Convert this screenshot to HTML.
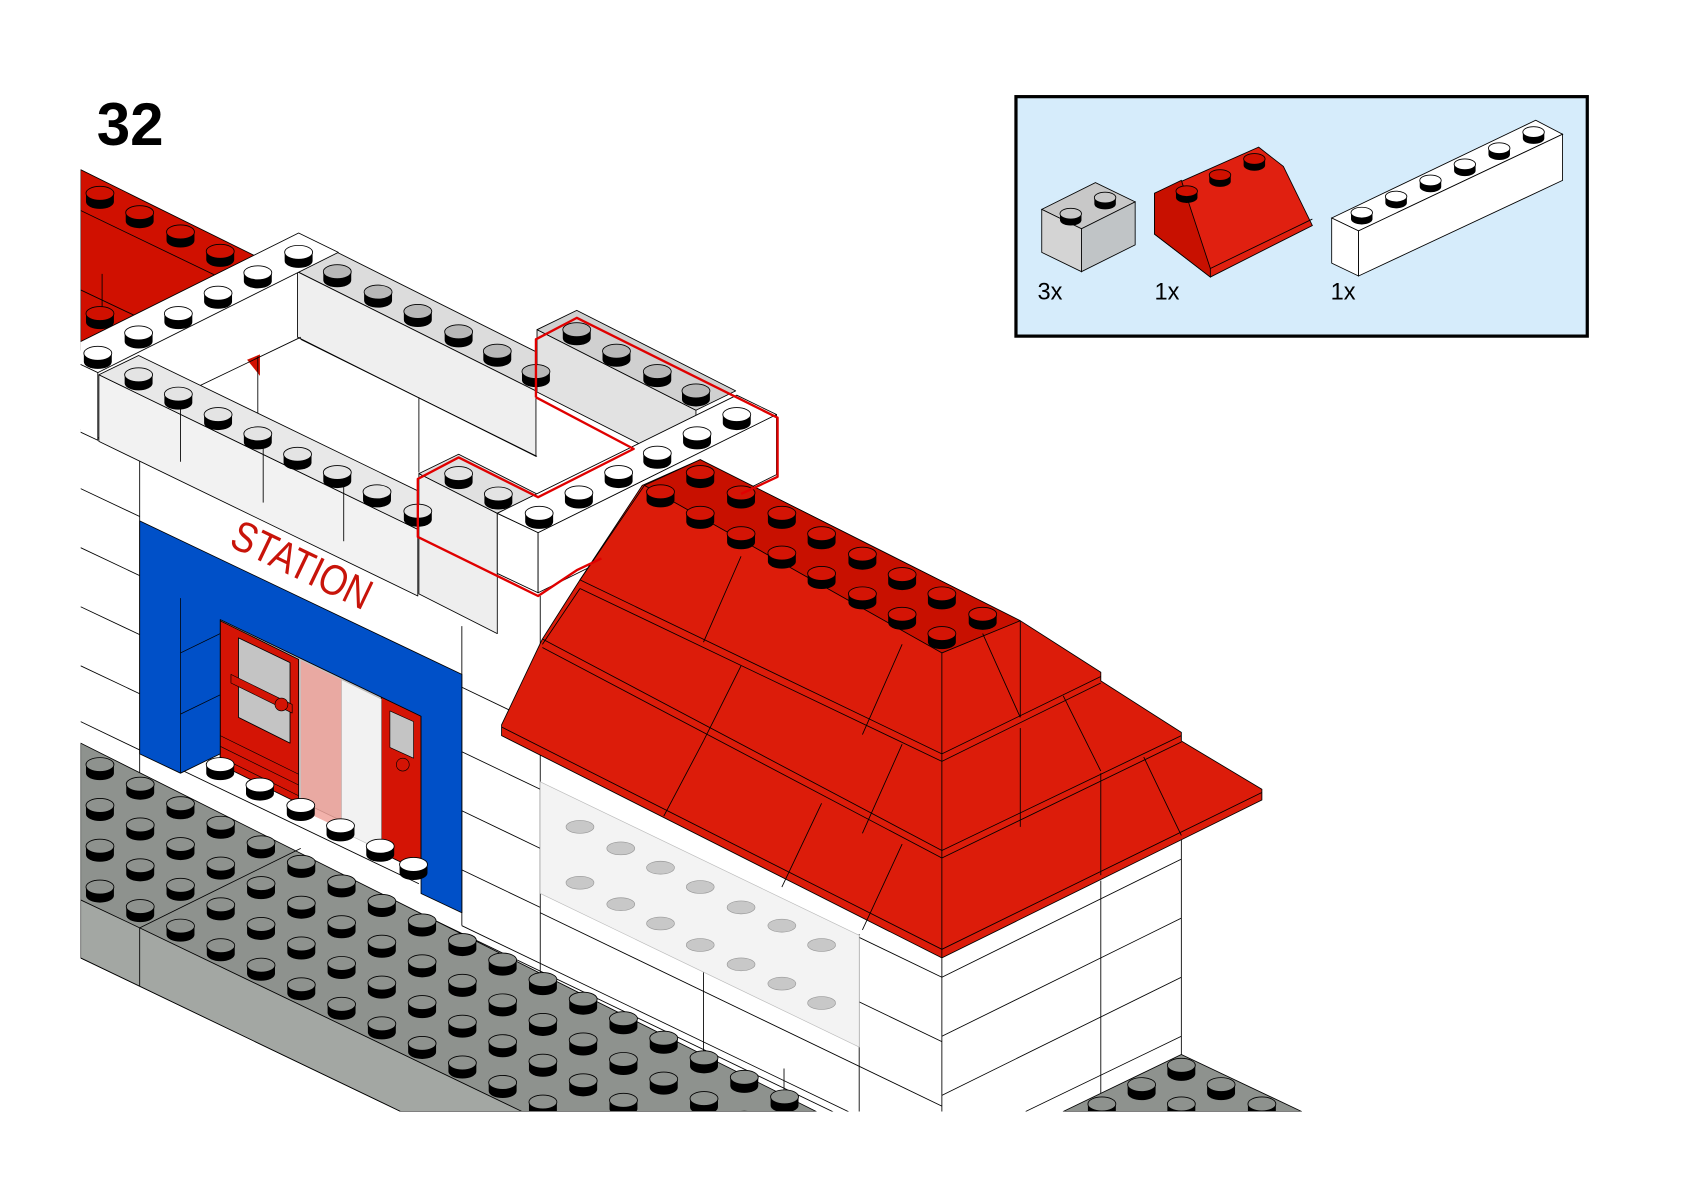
<!DOCTYPE html>
<html><head><meta charset="utf-8"><style>
html,body{margin:0;padding:0;background:#fff;}
svg{display:block;}
</style></head><body>
<svg width="1684" height="1192" viewBox="0 0 1568 1110" xmlns="http://www.w3.org/2000/svg">
<defs>
<g id="s"><path d="M-13,0 v8 a13,6.5 0 0 0 26,0 v-8 z" fill="#000"/><ellipse rx="13" ry="6.5" stroke="#000" stroke-width="0.8"/></g>
<g id="si"><path d="M-10,0 v6 a10,5 0 0 0 20,0 v-6 z" fill="#000"/><ellipse rx="10" ry="5" stroke="#000" stroke-width="0.8"/></g>
<g id="col"><use href="#s"/><use href="#s" y="38"/><use href="#s" y="76"/><use href="#s" y="114"/></g>
<clipPath id="cl"><rect x="75" y="0" width="1485" height="1035"/></clipPath>
</defs>
<rect width="1568" height="1110" fill="#fff"/>
<text x="90" y="135" font-family="Liberation Sans, sans-serif" font-weight="bold" font-size="56" fill="#000">32</text>

<g clip-path="url(#cl)" stroke-linejoin="round">
<!-- wall lines -->
<g stroke="#000" stroke-width="0.8" fill="none">
<line x1="75" y1="400" x2="130" y2="426"/><line x1="75" y1="455" x2="130" y2="481"/><line x1="75" y1="510" x2="130" y2="536"/>
<line x1="75" y1="565" x2="130" y2="591"/><line x1="75" y1="620" x2="130" y2="646"/><line x1="75" y1="672" x2="390" y2="823"/>
<line x1="130" y1="420" x2="130" y2="720"/>
<line x1="430" y1="583" x2="430" y2="862"/><line x1="503" y1="555" x2="503" y2="1035"/>
<line x1="430" y1="640" x2="503" y2="675"/><line x1="430" y1="700" x2="503" y2="735"/><line x1="430" y1="755" x2="503" y2="790"/><line x1="430" y1="810" x2="503" y2="845"/>
<line x1="390" y1="850" x2="800" y2="1047"/><line x1="430" y1="862" x2="800" y2="1040"/>
<line x1="503" y1="850" x2="877" y2="1030"/><line x1="503" y1="790" x2="877" y2="970"/><line x1="503" y1="730" x2="877" y2="910"/>
<line x1="800" y1="870" x2="800" y2="1035"/><line x1="877" y1="890" x2="877" y2="1035"/><line x1="655" y1="880" x2="655" y2="1000"/><line x1="730" y1="995" x2="730" y2="1035"/>
<line x1="1025" y1="820" x2="1025" y2="1035"/><line x1="1100" y1="775" x2="1100" y2="1035"/>
<line x1="877" y1="910" x2="1100" y2="800"/><line x1="877" y1="965" x2="1100" y2="855"/><line x1="877" y1="1020" x2="1100" y2="910"/>
<line x1="955" y1="1035" x2="1100" y2="965"/>
</g>
<!-- baseplate -->
<polygon points="75,692 760,1035 373,1035 75,892" fill="#8e928e" stroke="#000" stroke-width="0.8"/>
<polygon points="75,838 130,864 486,1035 373,1035 75,892" fill="#a3a7a3" stroke="#000" stroke-width="0.8"/>
<line x1="130" y1="864" x2="130" y2="918" stroke="#000" stroke-width="0.8"/>
<line x1="130" y1="864" x2="280" y2="790" stroke="#000" stroke-width="0.8"/>
<g fill="#8e928e">
<use href="#col" x="93" y="712"/><use href="#col" x="130.5" y="730.2"/><use href="#col" x="168" y="748.4"/>
<use href="#col" x="205.5" y="766.6"/><use href="#col" x="243" y="784.8"/><use href="#col" x="280.5" y="803"/>
<use href="#col" x="318" y="821.2"/><use href="#col" x="355.5" y="839.4"/><use href="#col" x="393" y="857.6"/>
<use href="#col" x="430.5" y="875.8"/><use href="#col" x="468" y="894"/><use href="#col" x="505.5" y="912.2"/>
<use href="#col" x="543" y="930.4"/><use href="#col" x="580.5" y="948.6"/><use href="#col" x="618" y="966.8"/>
<use href="#col" x="655.5" y="985"/><use href="#col" x="693" y="1003.2"/><use href="#col" x="730.5" y="1021.4"/>
</g>
<polygon points="990,1035 1100,982 1212,1035" fill="#8e928e" stroke="#000" stroke-width="0.8"/>
<g fill="#8e928e"><use href="#s" x="1100" y="992"/><use href="#s" x="1063" y="1010"/><use href="#s" x="1137" y="1010"/><use href="#s" x="1026" y="1028"/><use href="#s" x="1100" y="1028"/><use href="#s" x="1175" y="1028"/></g>

<!-- transparent bricks under roof -->
<polygon points="503,728 800,871 800,975 503,832" fill="#f3f3f3" stroke="#bbb" stroke-width="0.6"/>
<g fill="#c8c8c8" stroke="#999" stroke-width="0.6">
<ellipse cx="540" cy="770" rx="13" ry="6"/><ellipse cx="578" cy="790" rx="13" ry="6"/><ellipse cx="615" cy="808" rx="13" ry="6"/><ellipse cx="652" cy="826" rx="13" ry="6"/><ellipse cx="690" cy="845" rx="13" ry="6"/><ellipse cx="728" cy="862" rx="13" ry="6"/><ellipse cx="765" cy="880" rx="13" ry="6"/>
<ellipse cx="540" cy="822" rx="13" ry="6"/><ellipse cx="578" cy="842" rx="13" ry="6"/><ellipse cx="615" cy="860" rx="13" ry="6"/><ellipse cx="652" cy="880" rx="13" ry="6"/><ellipse cx="690" cy="898" rx="13" ry="6"/><ellipse cx="728" cy="916" rx="13" ry="6"/><ellipse cx="765" cy="934" rx="13" ry="6"/>
</g>

<!-- door -->
<polygon points="205,575 392,665 392,800 205,710" fill="#c4c4c4" stroke="#000" stroke-width="0.8"/>
<polygon points="205,578 278,614 278,748 205,712" fill="#d41405" stroke="#000" stroke-width="0.8"/>
<polygon points="222,594 270,617 270,692 222,668" fill="#c4c4c4" stroke="#000" stroke-width="0.8"/>
<polygon points="215,628 272,656 272,664 215,636" fill="#d41405" stroke="#000" stroke-width="0.6"/>
<circle cx="262" cy="656" r="6" fill="#d41405" stroke="#000" stroke-width="0.6"/>
<g stroke="#000" stroke-width="0.6"><line x1="205" y1="685" x2="278" y2="721"/><line x1="205" y1="695" x2="278" y2="731"/><line x1="205" y1="705" x2="278" y2="741"/></g>
<polygon points="355,648 392,666 392,812 355,794" fill="#d41405" stroke="#000" stroke-width="0.8"/>
<polygon points="363,662 385,672 385,706 363,696" fill="#c4c4c4" stroke="#000" stroke-width="0.6"/>
<circle cx="375" cy="712" r="6" fill="#d41405" stroke="#000" stroke-width="0.6"/>
<polygon points="280,615 318,633 318,772 280,754" fill="#f0a49c" opacity="0.85"/>
<polygon points="318,633 355,651 355,792 318,774" fill="#f2f2f2" stroke="#bbb" stroke-width="0.6"/>
<polygon points="130,485 430,628 430,850 392,832 392,667 205,577 205,702 168,720 130,702" fill="#0050c8" stroke="#000" stroke-width="0.8"/>
<g stroke="#000" stroke-width="0.7"><line x1="168" y1="557" x2="168" y2="720"/><line x1="168" y1="608" x2="205" y2="590"/><line x1="168" y1="665" x2="205" y2="647"/></g>
<g fill="#fff"><use href="#s" x="205" y="712"/><use href="#s" x="242" y="731"/><use href="#s" x="280" y="750"/><use href="#s" x="317" y="769"/><use href="#s" x="354" y="788"/><use href="#s" x="385" y="805"/></g>
<text x="0" y="0" transform="translate(212,508) rotate(25.6)" font-family="Liberation Sans, sans-serif" font-size="40" fill="#c8140a" textLength="140" lengthAdjust="spacingAndGlyphs">STATION</text>

<!-- top-left red -->
<polygon points="75,158 245,242 75,326" fill="#d01000" stroke="#000" stroke-width="0.8"/>
<g stroke="#000" stroke-width="0.8"><line x1="75" y1="196" x2="210" y2="261"/><line x1="75" y1="270" x2="130" y2="296"/><line x1="95" y1="255" x2="95" y2="300"/></g>
<polygon points="230,335 242,330 242,350" fill="#d01000"/>
<g fill="#d01000"><use href="#s" x="93" y="180"/><use href="#s" x="130" y="198"/><use href="#s" x="168" y="216"/><use href="#s" x="205" y="234"/><use href="#s" x="93" y="292"/></g>

<!-- upper structure -->
<g stroke="#000" stroke-width="0.8">
<polygon points="277,253 499,364 499,425 277,314" fill="#efefef"/>
<polygon points="314,235 536,346 499,364 277,253" fill="#dcdcdc"/>
<line x1="240" y1="332" x2="240" y2="430" /><line x1="280" y1="316" x2="500" y2="425"/><line x1="180" y1="362" x2="280" y2="314"/>
<line x1="390" y1="370" x2="390" y2="440"/>
<polygon points="53,329 278,217 315,235 91,347" fill="#fff"/>
<polygon points="53,329 91,347 91,410 53,392" fill="#fff"/>
<polygon points="92,349 389,493 389,555 92,411" fill="#f2f2f2"/>
<polygon points="129,331 426,475 389,493 92,349" fill="#e8e8e8"/>
<line x1="168" y1="368" x2="168" y2="430"/><line x1="245" y1="405" x2="245" y2="468"/><line x1="320" y1="442" x2="320" y2="504"/>
<polygon points="390,441 463,478 463,590 390,553" fill="#eeeeee"/>
<polygon points="427,423 500,460 463,478 390,441" fill="#e0e0e0"/>
<polygon points="500,307 648,382 648,440 500,365" fill="#e2e2e2"/>
<polygon points="537,289 685,364 648,382 500,307" fill="#d0d0d0"/>
<polygon points="463,478 501,496 501,552 463,534" fill="#fff"/>
<polygon points="501,496 723,386 723,442 501,552" fill="#fff"/>
<polygon points="463,478 686,368 723,386 501,496" fill="#fff"/>
</g>
<g fill="#fff"><use href="#s" x="91" y="329"/><use href="#s" x="129" y="310"/><use href="#s" x="166" y="292"/><use href="#s" x="203" y="273"/><use href="#s" x="240" y="254"/><use href="#s" x="278" y="235"/></g>
<g fill="#b8b8b8"><use href="#s" x="314" y="253"/><use href="#s" x="352" y="272"/><use href="#s" x="389" y="290"/><use href="#s" x="427" y="309"/><use href="#s" x="463" y="327"/><use href="#s" x="499" y="346"/>
<use href="#s" x="537" y="307"/><use href="#s" x="574" y="327"/><use href="#s" x="612" y="346"/><use href="#s" x="648" y="364"/></g>
<g fill="#e4e4e4"><use href="#s" x="129" y="349"/><use href="#s" x="166" y="367"/><use href="#s" x="203" y="386"/><use href="#s" x="240" y="404"/><use href="#s" x="277" y="423"/><use href="#s" x="314" y="440"/><use href="#s" x="351" y="458"/><use href="#s" x="389" y="476"/>
<use href="#s" x="427" y="441"/><use href="#s" x="464" y="460"/></g>
<g fill="#fff"><use href="#s" x="686" y="386"/><use href="#s" x="649" y="404"/><use href="#s" x="612" y="422"/><use href="#s" x="576" y="440"/><use href="#s" x="539" y="459"/><use href="#s" x="502" y="478"/></g>

<!-- roof -->
<polygon points="598,452 652,428 950,578 1025,626 1025,634 1100,682 1100,690 1175,735 1175,745 877,892 467,685 467,675 505,595 540,540" fill="#dc1c0a" stroke="#000" stroke-width="0.8"/>
<polygon points="600,452 652,428 950,578 877,608" fill="#c81000" stroke="#000" stroke-width="0.8"/>
<g stroke="#000" stroke-width="0.8" fill="none">
<polyline points="540,540 877,702 1025,630"/><polyline points="540,548 877,709 1025,636"/>
<polyline points="505,595 877,792 1100,685"/><polyline points="505,603 877,799 1100,691"/>
<polyline points="467,677 877,884 1175,738"/>
<line x1="877" y1="608" x2="877" y2="892"/>
<line x1="540" y1="540" x2="600" y2="452"/><line x1="505" y1="600" x2="540" y2="548"/>
<line x1="950" y1="578" x2="950" y2="668"/><line x1="915" y1="590" x2="950" y2="668"/>
<line x1="990" y1="648" x2="1025" y2="718"/><line x1="950" y1="678" x2="950" y2="770"/>
<line x1="1065" y1="705" x2="1100" y2="778"/><line x1="1025" y1="720" x2="1025" y2="815"/>
<line x1="690" y1="518" x2="655" y2="598"/><line x1="840" y1="600" x2="803" y2="684"/>
<line x1="690" y1="620" x2="655" y2="690"/><line x1="840" y1="693" x2="803" y2="776"/>
<line x1="655" y1="690" x2="618" y2="760"/><line x1="765" y1="748" x2="728" y2="826"/><line x1="840" y1="786" x2="803" y2="866"/>
</g>
<g fill="#d41405">
<use href="#s" x="652" y="440"/><use href="#s" x="690" y="459"/><use href="#s" x="728" y="478"/><use href="#s" x="765" y="497"/><use href="#s" x="803" y="516"/><use href="#s" x="840" y="535"/><use href="#s" x="877" y="553"/><use href="#s" x="915" y="572"/>
<use href="#s" x="615" y="458"/><use href="#s" x="652" y="478"/><use href="#s" x="690" y="497"/><use href="#s" x="728" y="515"/><use href="#s" x="765" y="534"/><use href="#s" x="803" y="553"/><use href="#s" x="840" y="572"/><use href="#s" x="877" y="590"/>
</g>

<!-- red highlight outline -->
<polyline points="499,370 499,316 537,296 724,389 724,444 690,460" fill="none" stroke="#e00000" stroke-width="2.2"/>
<polyline points="560,520 537,531 501,555 389,500 389,446 427,426 501,463 590,418 499,370" fill="none" stroke="#e00000" stroke-width="2.2"/>
</g>

<!-- inset -->
<rect x="946" y="90" width="532" height="223" fill="#d6ecfb" stroke="#000" stroke-width="3"/>
<g stroke="#000" stroke-width="0.8">
<polygon points="970,195 1020,170 1057,188 1007,213" fill="#c8c8c8"/>
<polygon points="970,195 1007,213 1007,253 970,235" fill="#d4d4d4"/>
<polygon points="1007,213 1057,188 1057,228 1007,253" fill="#c0c4c6"/>
<polygon points="1075,180 1172,137 1195,155 1222,210 1127,258 1075,218" fill="#e02010"/>
<polygon points="1075,180 1100,168 1127,250 1127,258 1075,218" fill="#c81000"/>
<line x1="1127" y1="250" x2="1222" y2="204"/>
<polygon points="1240,203 1430,112 1455,125 1265,215" fill="#fff"/>
<polygon points="1240,203 1265,215 1265,257 1240,245" fill="#fff"/>
<polygon points="1265,215 1455,125 1455,168 1265,257" fill="#fff"/>
</g>
<g fill="#c8c8c8"><use href="#si" x="997" y="199"/><use href="#si" x="1029" y="184"/></g>
<g fill="#d01000"><use href="#si" x="1105" y="178"/><use href="#si" x="1136" y="163"/><use href="#si" x="1168" y="148"/></g>
<g fill="#fff"><use href="#si" x="1268" y="198"/><use href="#si" x="1300" y="183"/><use href="#si" x="1332" y="168"/><use href="#si" x="1364" y="153"/><use href="#si" x="1396" y="138"/><use href="#si" x="1428" y="123"/></g>
<g font-family="Liberation Sans, sans-serif" font-size="22" fill="#000">
<text x="966" y="279">3x</text><text x="1075" y="279">1x</text><text x="1239" y="279">1x</text>
</g>
</svg>
</body></html>
